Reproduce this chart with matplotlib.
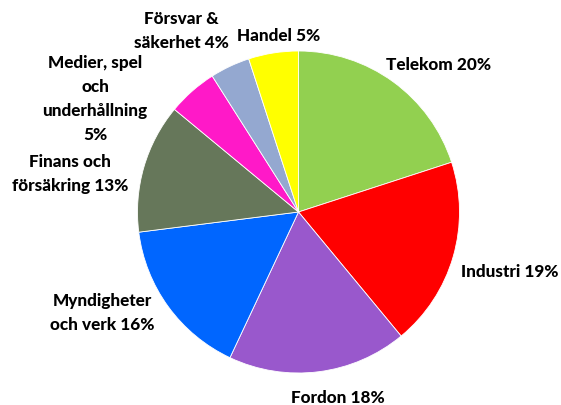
import matplotlib
matplotlib.use("Agg")
import matplotlib.pyplot as plt

categories = ["Telekom", "Industri", "Fordon", "Myndigheter och verk",
              "Finans och försäkring", "Medier, spel och underhållning",
              "Försvar & säkerhet", "Handel"]
values = [20, 19, 18, 16, 13, 5, 4, 5]
label_texts = ["Telekom 20%", "Industri 19%", "Fordon 18%",
               "Myndigheter\noch verk 16%", "Finans och\nförsäkring 13%",
               "Medier, spel\noch\nunderhållning\n5%", "Försvar &\nsäkerhet 4%",
               "Handel 5%"]
colors = ["#92D050", "#FF0000", "#9958CC", "#0066FF", "#66775A",
          "#FF19C8", "#94A8D0", "#FFFF00"]

# label centers in pixel coordinates (x, y from top)
label_pos = [(439, 65), (510, 272), (338, 398), (102, 313), (70, 174),
             (95, 99), (181, 31), (279, 36)]

W, H = 561, 405
fig = plt.figure(figsize=(W / 100, H / 100), dpi=100)
ax = fig.add_axes([0, 0, 1, 1])

ax.pie(values, colors=colors, startangle=90, counterclock=False,
       center=(298.5, H - 212), radius=161, frame=True,
       wedgeprops=dict(edgecolor="white", linewidth=0.6))
ax.set_xlim(0, W)
ax.set_ylim(0, H)
ax.set_aspect("equal")
ax.axis("off")

for txt, (x, y) in zip(label_texts, label_pos):
    ax.text(x, H - y, txt, ha="center", va="center", fontsize=12.3,
            fontweight=900, family="Lato", linespacing=1.6, color="black")

fig.savefig("out.png", dpi=100)
